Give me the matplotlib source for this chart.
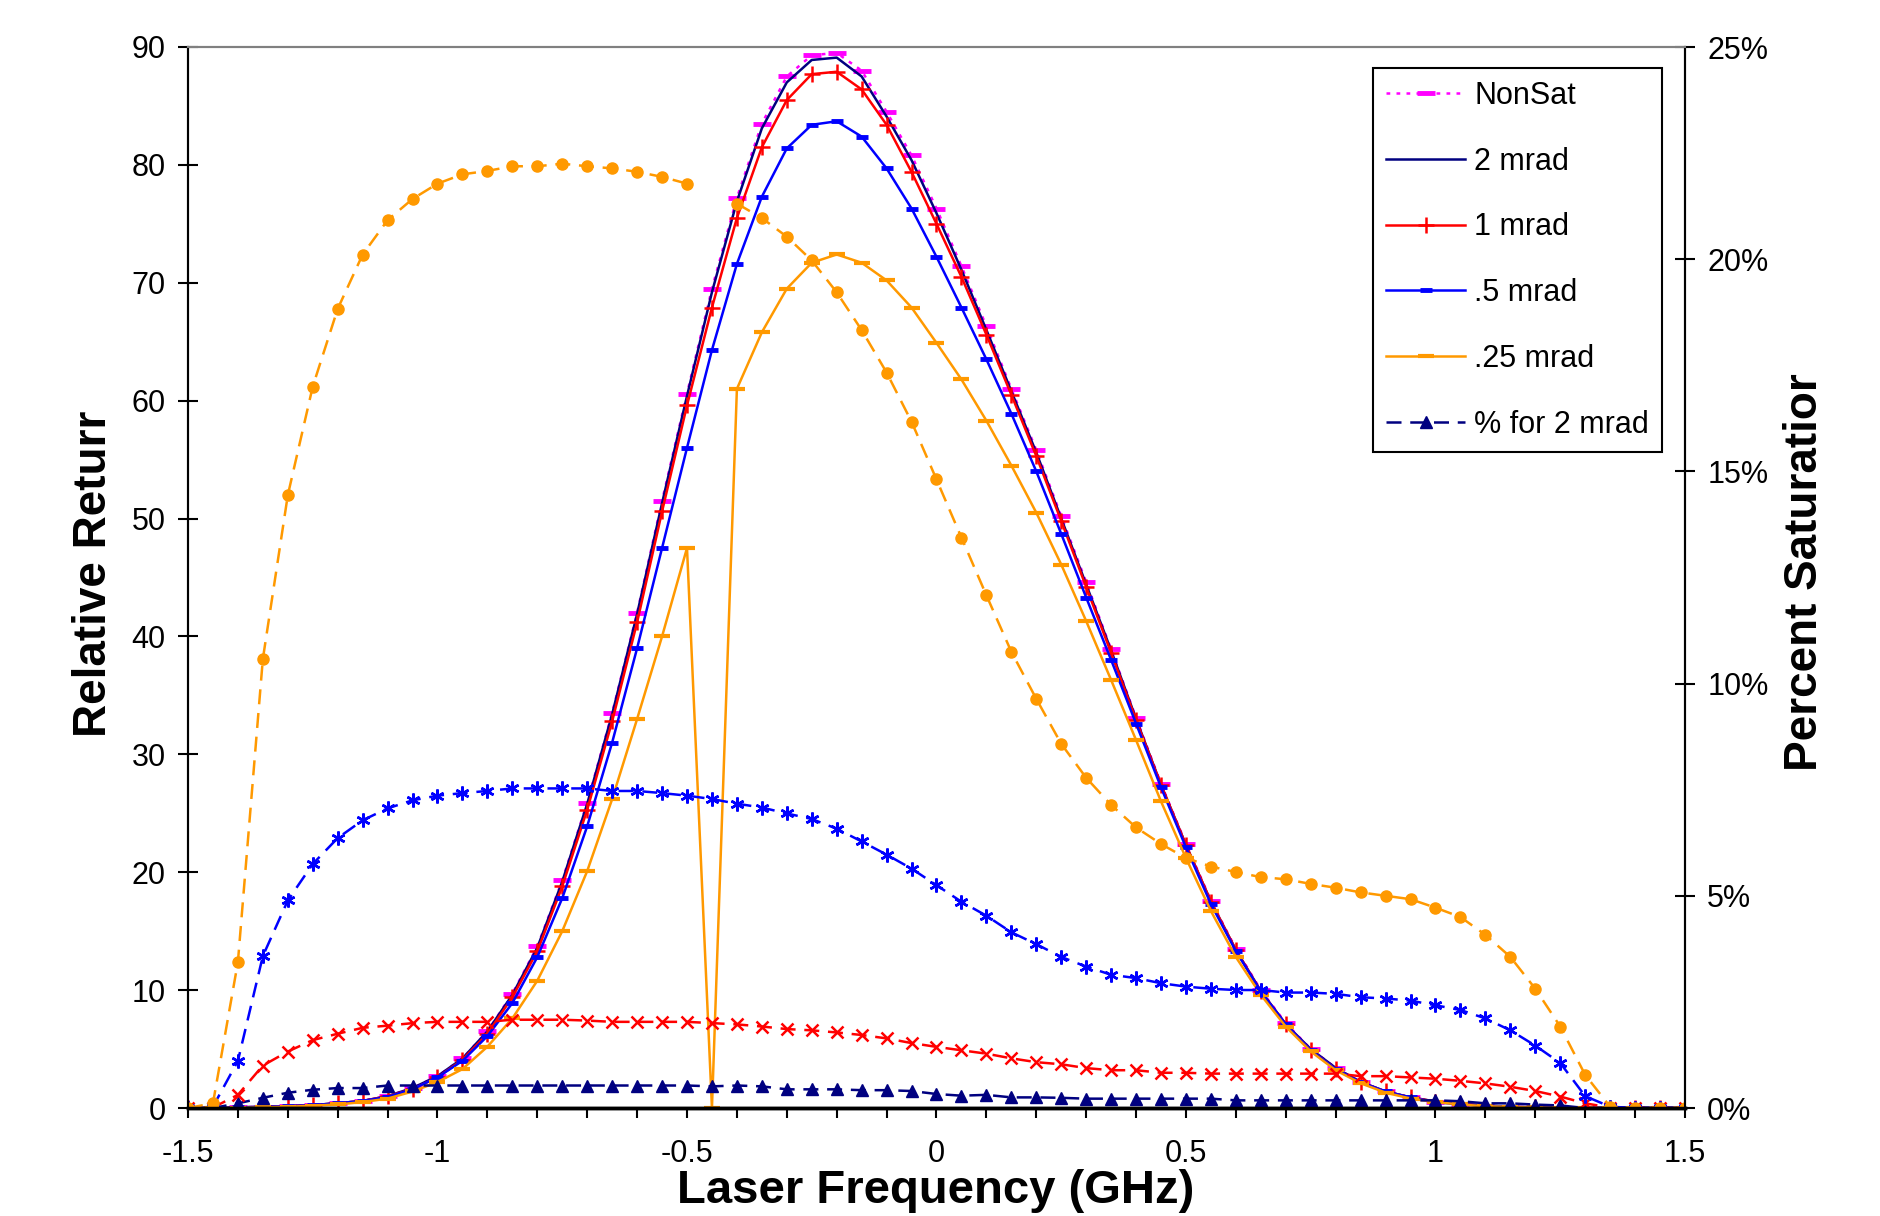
import numpy as np
import matplotlib
matplotlib.use("Agg")
import matplotlib.pyplot as plt

plt.rcParams['font.family'] = ['Liberation Sans', 'DejaVu Sans']

# laser frequency grid (GHz), one point every 0.05
freq = np.linspace(-1.5, 1.5, 61)
nan = np.nan

# relative return (left axis)
nonsat = [0, 0, 0.05, 0.1, 0.15, 0.25, 0.4, 0.6, 1.0, 1.7,
          2.7, 4.2, 6.5, 9.7, 13.7, 19.3, 25.9, 33.5, 42.0, 51.5,
          60.6, 69.5, 77.2, 83.5, 87.5, 89.3, 89.5, 88.0, 84.5, 80.8,
          76.3, 71.4, 66.3, 61.0, 55.8, 50.2, 44.6, 38.9, 33.1, 27.5,
          22.4, 17.6, 13.5, 10.0, 7.2, 5.0, 3.4, 2.2, 1.4, 0.9,
          0.55, 0.35, 0.2, 0.1, 0.05, 0, 0, 0, 0, 0, 0]
mrad2 = [0, 0, 0.05, 0.1, 0.15, 0.25, 0.4, 0.6, 1.0, 1.7,
         2.7, 4.2, 6.5, 9.6, 13.6, 19.2, 25.8, 33.4, 41.9, 51.3,
         60.4, 69.2, 76.9, 83.1, 87.0, 88.9, 89.1, 87.5, 84.1, 80.4,
         75.9, 71.1, 66.0, 60.8, 55.6, 50.0, 44.4, 38.8, 33.0, 27.4,
         22.3, 17.5, 13.4, 9.9, 7.1, 5.0, 3.4, 2.2, 1.4, 0.9,
         0.55, 0.35, 0.2, 0.1, 0.05, 0, 0, 0, 0, 0, 0]
mrad1 = [0, 0, 0.05, 0.1, 0.15, 0.25, 0.4, 0.6, 1.0, 1.6,
         2.6, 4.1, 6.3, 9.4, 13.3, 18.8, 25.3, 32.8, 41.2, 50.6,
         59.6, 67.9, 75.5, 81.5, 85.5, 87.7, 87.9, 86.4, 83.4, 79.4,
         75.0, 70.5, 65.6, 60.5, 55.3, 49.8, 44.2, 38.6, 32.9, 27.4,
         22.3, 17.5, 13.4, 9.9, 7.1, 4.9, 3.3, 2.2, 1.4, 0.9,
         0.55, 0.35, 0.2, 0.1, 0.05, 0, 0, 0, 0, 0, 0]
mrad05 = [0, 0, 0.05, 0.1, 0.15, 0.25, 0.4, 0.6, 0.95, 1.6,
          2.6, 4.0, 6.1, 8.9, 12.8, 17.8, 23.9, 31.0, 39.0, 47.5,
          56.0, 64.3, 71.6, 77.3, 81.4, 83.4, 83.7, 82.4, 79.7, 76.3,
          72.2, 67.9, 63.5, 58.9, 54.0, 48.7, 43.3, 38.0, 32.6, 27.2,
          22.1, 17.3, 13.3, 9.9, 7.1, 4.9, 3.3, 2.2, 1.4, 0.9,
          0.5, 0.3, 0.2, 0.1, 0.05, 0, 0, 0, 0, 0, 0]
mrad025 = [0, 0, 0, 0.05, 0.1, 0.2, 0.3, 0.5, 0.8, 1.4,
           2.2, 3.3, 5.2, 7.6, 10.8, 15.0, 20.1, 26.2, 33.0, 40.0,
           47.5, 0, 61.0, 65.8, 69.5, 71.7, 72.4, 71.7, 70.2, 67.9,
           64.9, 61.8, 58.3, 54.5, 50.5, 46.1, 41.3, 36.3, 31.2, 26.0,
           21.2, 16.7, 12.8, 9.6, 6.9, 4.8, 3.2, 2.1, 1.3, 0.8,
           0.5, 0.3, 0.15, 0.1, 0.05, 0, 0, 0, 0, 0, 0]

# percent saturation (right axis, in %)
pct2 = [0, 0, 0.11, 0.24, 0.36, 0.43, 0.47, 0.47, 0.53, 0.53,
        0.53, 0.53, 0.53, 0.53, 0.53, 0.53, 0.53, 0.53, 0.53, 0.53,
        0.53, 0.51, 0.53, 0.51, 0.44, 0.44, 0.44, 0.42, 0.42, 0.40,
        0.33, 0.29, 0.31, 0.25, 0.25, 0.24, 0.22, 0.22, 0.22, 0.22,
        0.22, 0.22, 0.18, 0.18, 0.18, 0.18, 0.18, 0.18, 0.18, 0.18,
        0.18, 0.16, 0.11, 0.11, 0.08, 0.06, 0, 0, 0, 0, 0]
pct1 = [0, 0.01, 0.31, 1.0, 1.33, 1.6, 1.75, 1.89, 1.94, 2.0,
        2.03, 2.03, 2.03, 2.08, 2.08, 2.08, 2.06, 2.03, 2.03, 2.03,
        2.03, 2.0, 1.97, 1.92, 1.86, 1.83, 1.78, 1.72, 1.64, 1.53,
        1.44, 1.36, 1.28, 1.17, 1.08, 1.03, 0.94, 0.89, 0.89, 0.83,
        0.83, 0.81, 0.81, 0.81, 0.81, 0.81, 0.81, 0.75, 0.75, 0.72,
        0.69, 0.64, 0.58, 0.5, 0.4, 0.27, 0.11, 0.01, 0, 0, 0]
pct05 = [0, 0.03, 1.11, 3.58, 4.89, 5.75, 6.36, 6.78, 7.06, 7.25,
         7.36, 7.42, 7.47, 7.53, 7.53, 7.53, 7.53, 7.47, 7.47, 7.42,
         7.36, 7.28, 7.17, 7.08, 6.94, 6.81, 6.58, 6.28, 5.97, 5.64,
         5.25, 4.86, 4.53, 4.14, 3.86, 3.56, 3.33, 3.14, 3.06, 2.94,
         2.86, 2.81, 2.78, 2.78, 2.72, 2.72, 2.69, 2.61, 2.58, 2.53,
         2.42, 2.31, 2.11, 1.83, 1.47, 1.06, 0.28, 0.03, 0, 0, 0]
pct025 = [0, 0.11, 3.44, 10.58, 14.44, 17.0, 18.83, 20.11, 20.92, 21.42,
          21.78, 22.0, 22.08, 22.19, 22.19, 22.25, 22.19, 22.14, 22.06, 21.94,
          21.78, nan, 21.31, 20.97, 20.53, 19.97, 19.22, 18.33, 17.33, 16.17,
          14.81, 13.44, 12.08, 10.75, 9.64, 8.58, 7.78, 7.14, 6.61, 6.22,
          5.89, 5.69, 5.56, 5.44, 5.39, 5.28, 5.19, 5.08, 5.0, 4.92,
          4.72, 4.5, 4.08, 3.56, 2.81, 1.92, 0.78, 0.03, 0, 0, 0]

xticks = np.round(np.arange(-1.5, 1.5001, 0.1), 2)
xlabels = ['-1.5', '-1', '-0.5', '0', '0.5', '1', '1.5']
left_ticks = list(range(0, 91, 10))
right_ticks = [0, 5, 10, 15, 20, 25]

W, H = 1881, 1216
fig = plt.figure(figsize=(W / 100, H / 100), dpi=100)
ax = fig.add_axes([188 / W, 1 - 1108 / H, (1685 - 188) / W, (1108 - 47) / H])
ax2 = ax.twinx()

magenta, navy, red, blue, orange = '#FF00FF', '#000080', '#FF0000', '#0000FF', '#FF9900'

h_ns, = ax.plot(freq, nonsat, color=magenta, ls=(0, (1.5, 2.5)), lw=1.8,
                marker='_', ms=13, mew=3.5, label='NonSat')
h_2, = ax.plot(freq, mrad2, color=navy, lw=1.8, label='2 mrad')
h_1, = ax.plot(freq, mrad1, color=red, lw=1.8, marker='+', ms=12, mew=1.8,
               label='1 mrad')
h_05, = ax.plot(freq, mrad05, color=blue, lw=1.8, marker='_', ms=8, mew=3.5,
                label='.5 mrad')
h_025, = ax.plot(freq, mrad025, color=orange, lw=1.8, marker='_', ms=11, mew=3,
                 label='.25 mrad')

dash = (0, (6, 3.5))
h_p2, = ax2.plot(freq, pct2, color=navy, ls=dash, lw=1.8, marker='^', ms=8,
                 label='% for 2 mrad')
ax2.plot(freq, pct1, color=red, ls=dash, lw=1.8, marker='x', ms=9, mew=1.8)
ax2.plot(freq, pct05, color=blue, ls=dash, lw=1.8, marker=(6, 2, 0), ms=10, mew=1.8)
ax2.plot(freq, pct025, color=orange, ls=dash, lw=1.8, marker='o', ms=8)

ax.set_xlim(-1.5, 1.5)
ax.set_ylim(0, 90)
ax2.set_ylim(0, 25)

ax.set_xticks(xticks)
ax.set_xticklabels([xlabels[int(round((t + 1.5) / 0.5))] if abs(round(t * 2) - t * 2) < 1e-6 else ''
                    for t in xticks])
ax.set_yticks(left_ticks)
ax2.set_yticks(right_ticks)
ax2.set_yticklabels([f'{t}%' for t in right_ticks])

ax.tick_params(axis='x', direction='out', length=7, width=1.5, labelsize=22, pad=15)
ax.tick_params(axis='y', direction='inout', length=14, width=1.5, labelsize=22, pad=9)
ax2.tick_params(axis='y', direction='inout', length=14, width=1.5, labelsize=22, pad=9)

for a in (ax, ax2):
    a.spines['top'].set_color('#808080')
    a.spines['top'].set_linewidth(1.5)
    a.spines['left'].set_linewidth(1.5)
    a.spines['right'].set_linewidth(1.5)
    a.spines['bottom'].set_linewidth(2.5)

fig.text(94 / W, 1 - 574 / H, 'Relative Returr', rotation=90, ha='center', va='center',
         fontsize=33, fontweight='bold')
fig.text(1805 / W, 1 - 572 / H, 'Percent Saturatior', rotation=90, ha='center', va='center',
         fontsize=33, fontweight='bold')
fig.text(936 / W, 13 / H, 'Laser Frequency (GHz)', ha='center', va='baseline',
         fontsize=34, fontweight='bold')

leg = ax2.legend(handles=[h_ns, h_2, h_1, h_05, h_025, h_p2], loc='upper right',
                 bbox_to_anchor=(1662 / W, 1 - 68 / H), bbox_transform=fig.transFigure,
                 borderaxespad=0, fontsize=22, numpoints=1, handlelength=2.6,
                 labelspacing=1.17, handletextpad=0.3, borderpad=0.42,
                 fancybox=False, framealpha=1, edgecolor='black')
leg.get_frame().set_linewidth(1.5)

fig.savefig('out.png', dpi=100)
plt.close(fig)
